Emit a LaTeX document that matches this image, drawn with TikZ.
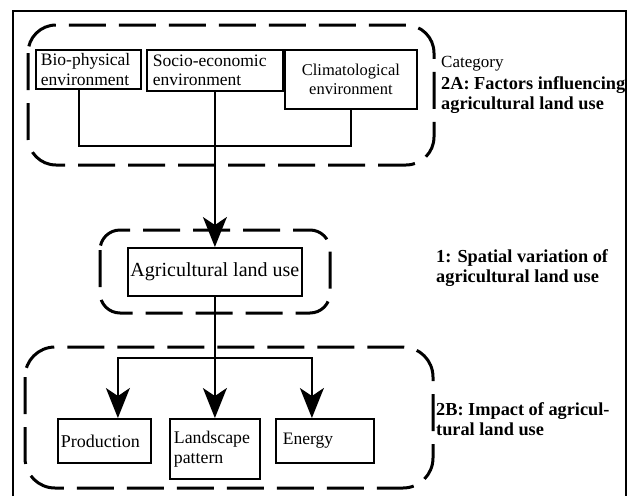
\documentclass[tikz,border=0pt]{standalone}
\usepackage{fontspec}
\setmainfont{Liberation Serif}
\usetikzlibrary{arrows.meta}
\begin{document}
\begin{tikzpicture}[x=1pt,y=-1pt,
  box/.style={draw,line width=1.8pt,anchor=north west,inner xsep=0pt,inner ysep=0pt,
    font=\fontsize{17.5}{19.5}\selectfont},
  group/.style={line width=3pt,dash pattern=on 37pt off 13pt},
  conn/.style={line width=1.8pt},
  arr/.style={conn,-{Stealth[length=30pt,width=24pt,inset=8pt]}},
  lab/.style={anchor=base west,align=left,inner sep=0pt,
    font=\bfseries\fontsize{18.3}{19.5}\selectfont}]
\useasboundingbox (0,0) rectangle (629,496);
% outer frame
\draw[line width=1.6pt] (13,496) |- (626,11) -- (626,496);
% dashed groups
\draw[group,rounded corners=28pt] (28,25) rectangle (434,165);
\draw[group,rounded corners=20pt] (100,230) rectangle (330,313);
\draw[group,rounded corners=30pt] (25,347) rectangle (433,488);
% boxes
\node[box,minimum width=105pt,minimum height=39pt] (bio) at (35,49)
  {\parbox{95pt}{\raggedright Bio-physical\\environment}};
\node[box,minimum width=136pt,minimum height=41pt] (soc) at (146,49)
  {\parbox{124pt}{\raggedright Socio-economic\\environment}};
\node[box,minimum width=132pt,minimum height=59pt] (cli) at (284,49)
  {\parbox{120pt}{\centering\fontsize{16.5}{19.5}\selectfont Climatological\\environment}};
\node[box,minimum width=174pt,minimum height=48pt,font=\fontsize{20}{22}\selectfont] (agr) at (127,247)
  {Agricultural land use};
\node[box,minimum width=93pt,minimum height=44pt] (pro) at (57,418)
  {\parbox{87pt}{\raggedright\fontsize{18}{20}\selectfont Production}};
\node[box,minimum width=90pt,minimum height=60pt] (lan) at (169,418)
  {\parbox{82pt}{\raggedright\fontsize{17.8}{20}\selectfont Landscape\\pattern}};
\node[box,minimum width=98pt,minimum height=44pt] (ene) at (275,418)
  {\parbox{84pt}{\raggedright Energy}};
% connectors
\coordinate (j) at (214,146);
\coordinate (b) at (214,358);
\draw[conn] ([xshift=-9.5pt]bio.south) |- (j) -| (cli.south);
\draw[arr] (soc.south) -- (agr.north);
\draw[arr] (agr.south) -- (lan.north);
\draw[arr] (b) -| ([xshift=13.5pt]pro.north);
\draw[arr] (b) -| ([xshift=-13pt]ene.north);
% labels (base = baseline of the last line)
\node[lab,font=\fontsize{17}{19.5}\selectfont] (cat) at (441,67) {Category};
\node[lab] (l2a) at (441,109) {2A: Factors influencing\\agricultural land use};
\node[lab] (l1) at (436,282) {1: Spatial variation of\\agricultural land use};
\node[lab] (l2b) at (436,435) {2B: Impact of agricul-\\tural land use};
\end{tikzpicture}
\end{document}
